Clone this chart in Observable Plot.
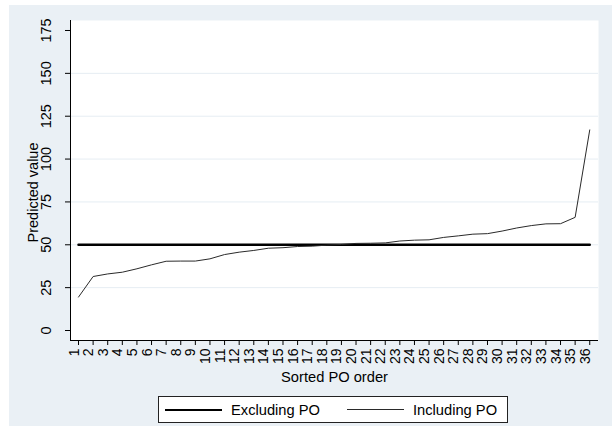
<!DOCTYPE html>
<html>
<head>
<meta charset="utf-8">
<script src="https://cdn.jsdelivr.net/npm/d3@7"></script>
<script src="https://cdn.jsdelivr.net/npm/@observablehq/plot@0.6"></script>
<style>
  body { margin: 0; background: #fff; }
  #wrap { position: relative; width: 612px; height: 426px; overflow: hidden; background: #fff;
          font-family: "Liberation Sans", Arial, sans-serif; }
  #bg { position: absolute; left: 9px; top: 5px; right: 0; bottom: 0; background: #eaf0f5; }
  #chart { position: absolute; left: 0; top: 0; }
  #legend { position: absolute; left: 158px; top: 396px; width: 350px; height: 27px; box-sizing: border-box;
            border: 1px solid #222; background: #fff; }
  .item { position: absolute; top: 0; height: 25px; display: flex; align-items: center; font-size: 14.7px; color: #000; }
  .swatch { display: inline-block; width: 57px; margin-right: 9px; }
</style>
</head>
<body>
<div id="wrap">
  <div id="bg"></div>
  <div id="chart"></div>
  <div id="legend"></div>
</div>
<script>
// ---- data ----
const poOrder = [1, 2, 3, 4, 5, 6, 7, 8, 9, 10, 11, 12, 13, 14, 15, 16, 17, 18,
                 19, 20, 21, 22, 23, 24, 25, 26, 27, 28, 29, 30, 31, 32, 33, 34, 35, 36];
const excludingPO = [50, 50, 50, 50, 50, 50, 50, 50, 50, 50, 50, 50, 50, 50, 50, 50, 50, 50,
                     50, 50, 50, 50, 50, 50, 50, 50, 50, 50, 50, 50, 50, 50, 50, 50, 50, 50];
const includingPO = [19.5, 31.5, 33.0, 34.0, 36.0, 38.3, 40.4, 40.5, 40.5, 41.8, 44.3, 45.7,
                     46.7, 48.0, 48.3, 49.0, 49.2, 49.8, 50.2, 50.8, 50.9, 51.1, 52.2, 52.7,
                     52.9, 54.3, 55.2, 56.2, 56.5, 58.0, 59.8, 61.2, 62.2, 62.3, 66.0, 117.0];
const seriesNames = ["Excluding PO", "Including PO"];
const yTicks = [0, 25, 50, 75, 100, 125, 150, 175];
const yGrid = [25, 50, 75, 100, 125, 150];
const xTitle = "Sorted PO order";
const yTitle = "Predicted value";

const exRows = poOrder.map((o, i) => ({order: o, value: excludingPO[i]}));
const inRows = poOrder.map((o, i) => ({order: o, value: includingPO[i]}));

const xDomain = [0.452, 36.6];
const yDomain = [-5.833, 180.833];

const chart = Plot.plot({
  width: 612,
  height: 426,
  marginLeft: 70,
  marginRight: 14,
  marginTop: 20,
  marginBottom: 86,
  style: {background: "transparent", color: "#000", fontFamily: "'Liberation Sans', Arial, sans-serif", fontSize: "14px", overflow: "visible"},
  x: {type: "linear", domain: xDomain, axis: null},
  y: {type: "linear", domain: yDomain, axis: null},
  marks: [
    Plot.frame({fill: "white", stroke: null}),
    Plot.gridY(yGrid, {stroke: "#e6edf3", strokeOpacity: 1, strokeWidth: 1}),
    Plot.ruleX([xDomain[0]], {stroke: "#000", strokeWidth: 1}),
    Plot.ruleY([yDomain[0]], {stroke: "#000", strokeWidth: 1}),
    Plot.axisY(yTicks, {tickSize: 5, tickFormat: () => "", label: null, stroke: "#000"}),
    Plot.axisX(poOrder, {tickSize: 5, tickFormat: () => "", label: null, stroke: "#000"}),
    Plot.text(yTicks, {y: d => d, text: d => String(d), frameAnchor: "left", dx: -24, rotate: -90, textAnchor: "middle", fontSize: 14.5}),
    Plot.text(poOrder, {x: d => d, text: d => String(d), frameAnchor: "bottom", dy: 8, rotate: -90, textAnchor: "end", fontSize: 14}),
    Plot.text([yTitle], {frameAnchor: "left", dx: -37, dy: 12, rotate: -90, textAnchor: "middle", fontSize: 14.5}),
    Plot.text([xTitle], {frameAnchor: "bottom", dy: 41, textAnchor: "middle", fontSize: 14.7}),
    Plot.line(exRows, {x: "order", y: "value", stroke: "#000", strokeWidth: 2.5}),
    Plot.line(inRows, {x: "order", y: "value", stroke: "#2a2a2a", strokeWidth: 1})
  ]
});
document.getElementById("chart").appendChild(chart);

// ---- legend ----
const legend = document.getElementById("legend");
const legendStyle = [{left: 6, w: 2.5, c: "#000"}, {left: 188, w: 1, c: "#2a2a2a"}];
seriesNames.forEach((name, i) => {
  const item = document.createElement("div");
  item.className = "item";
  item.style.left = legendStyle[i].left + "px";
  const sw = document.createElement("span");
  sw.className = "swatch";
  sw.style.borderTop = legendStyle[i].w + "px solid " + legendStyle[i].c;
  item.appendChild(sw);
  const t = document.createElement("span");
  t.textContent = name;
  item.appendChild(t);
  legend.appendChild(item);
});
</script>
</body>
</html>
